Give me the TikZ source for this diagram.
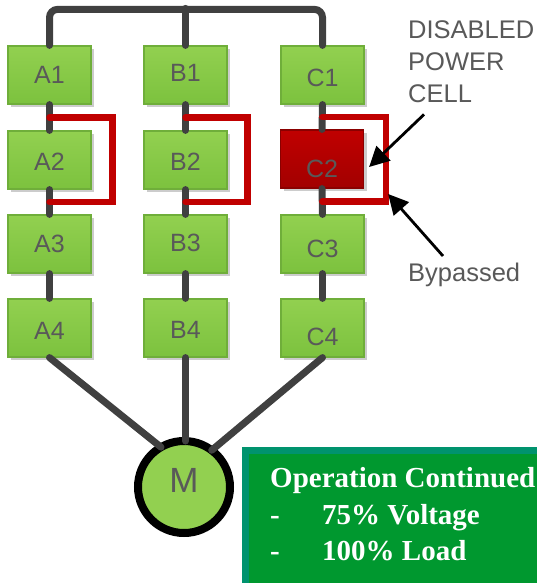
\documentclass[tikz,border=0pt]{standalone}
\usepackage{fontspec}
\setmainfont{Liberation Sans}
\newfontfamily\serifbold{Liberation Serif}
\usetikzlibrary{arrows.meta,shadows,calc}
\definecolor{wiregrey}{HTML}{404040}
\definecolor{txtgrey}{HTML}{595959}
\definecolor{cellTop}{HTML}{92D050}
\definecolor{cellBot}{HTML}{7CC23E}
\definecolor{cellEdge}{HTML}{6FAE3A}
\definecolor{redTop}{HTML}{C00000}
\definecolor{redBot}{HTML}{A20000}
\definecolor{redEdge}{HTML}{8A0000}
\definecolor{bypass}{HTML}{C00000}
\definecolor{okFill}{HTML}{00982F}
\definecolor{okEdge}{HTML}{00936E}
\begin{document}
\begin{tikzpicture}[x=1pt,y=-1pt,
  cell/.style={rectangle, minimum width=83pt, minimum height=58pt, inner sep=0pt,
    top color=cellTop, bottom color=cellBot, draw=cellEdge, line width=1.2pt,
    drop shadow={shadow xshift=3pt, shadow yshift=-3pt, fill=black!20, opacity=1}},
  deadcell/.style={cell, top color=redTop, bottom color=redBot, draw=redEdge},
  lbl/.style={text=txtgrey, font=\fontsize{25}{30}\selectfont, inner sep=0pt},
  wire/.style={draw=wiregrey, line width=7pt, line cap=round},
  byp/.style={draw=bypass, line width=6.5pt, line cap=round, line join=miter},
  pointer/.style={draw=black, line width=2.8pt, -{Triangle[length=20pt,width=20pt]}},
  note/.style={text=txtgrey, font=\fontsize{25.5}{32}\selectfont, align=left, inner sep=0pt, anchor=north west},
  oktext/.style={text=white, font=\serifbold\bfseries\fontsize{29}{36}\selectfont, inner sep=0pt, anchor=base west}
]
\useasboundingbox (0,0) rectangle (537,583);
\clip (0,0) rectangle (537,583);

% cells
\node[cell, label={[lbl]center:A1}] (A1) at (49.5,75) {};
\node[cell, label={[lbl,yshift=-2pt]center:A2}] (A2) at (49.5,160) {};
\node[cell, label={[lbl]center:A3}] (A3) at (49.5,244) {};
\node[cell, label={[lbl,yshift=-3pt]center:A4}] (A4) at (49.5,328) {};
\node[cell, label={[lbl,yshift=2.5pt]center:B1}] (B1) at (185.5,75) {};
\node[cell, label={[lbl,yshift=-2pt]center:B2}] (B2) at (185.5,160) {};
\node[cell, label={[lbl,yshift=1pt]center:B3}] (B3) at (185.5,244) {};
\node[cell, label={[lbl,yshift=-2pt]center:B4}] (B4) at (185.5,328) {};
\node[cell, label={[lbl,yshift=-3pt]center:C1}] (C1) at (322.5,75) {};
\node[deadcell, label={[lbl,yshift=-10pt]center:C2}] (C2) at (322,159) {};
\node[cell, label={[lbl,yshift=-5pt]center:C3}] (C3) at (322.5,244) {};
\node[cell, label={[lbl,yshift=-9pt]center:C4}] (C4) at (322.5,328) {};

% top bus
\coordinate (busB) at ($(B1.north)+(0,-36)$);
\draw[wire, rounded corners=8pt] (A1.north) |- (busB) -| (C1.north);
\draw[wire] (busB) -- (B1.north);
\fill[wiregrey] (busB) circle (4.5pt);

% series links
\foreach \c in {A,B,C}{
  \draw[wire] (\c1.south) -- (\c2.north);
  \draw[wire] (\c2.south) -- (\c3.north);
  \draw[wire] (\c3.south) -- (\c4.north);
}

% bypass loops
\foreach \c/\d in {A/21,B/20,C/22}{
  \draw[byp] ($(\c1.south)!0.5!(\c2.north)$) -| ($(\c2.east)+(\d,0)$) |- ($(\c2.south)!0.5!(\c3.north)$);
}

% annotations
\node[note] (dis) at (408,20) {DISABLED\\POWER\\CELL};
\node[note] (bypassed) at (408,263) {Bypassed};
\draw[pointer] ($(dis.south west)+(16,12)$) -- ($(C2.east)+(5,8)$);
\draw[pointer] ($(bypassed.north west)+(35,-7)$) -- ($(C2.east)+(24,35)$);

% motor
\node[circle, minimum size=92pt, inner sep=0pt, outer sep=0pt, fill=cellTop, draw=black, line width=8pt,
  label={[text=txtgrey, font=\fontsize{35}{40}\selectfont, inner sep=0pt, yshift=7pt]center:M}] (M) at (184,487) {};
\draw[wire] (A4.south) -- (M.120);
\draw[wire] (B4.south) -- (B4.south |- M.north);
\draw[wire] (C4.south) -- (M.53);

% status box
\node[rectangle, draw=okEdge, fill=okFill, line width=7pt, minimum width=320pt, minimum height=160pt,
  anchor=north west, inner sep=0pt] (status) at (241.5,446.5) {};
\node[oktext] (op) at (270,487) {Operation Continued};
\node[oktext] (d1) at (270,524) {-};
\node[oktext] (v1) at (322,524) {75\% Voltage};
\node[oktext] (d2) at (270,560) {-};
\node[oktext] (v2) at (322,560) {100\% Load};
\end{tikzpicture}
\end{document}
